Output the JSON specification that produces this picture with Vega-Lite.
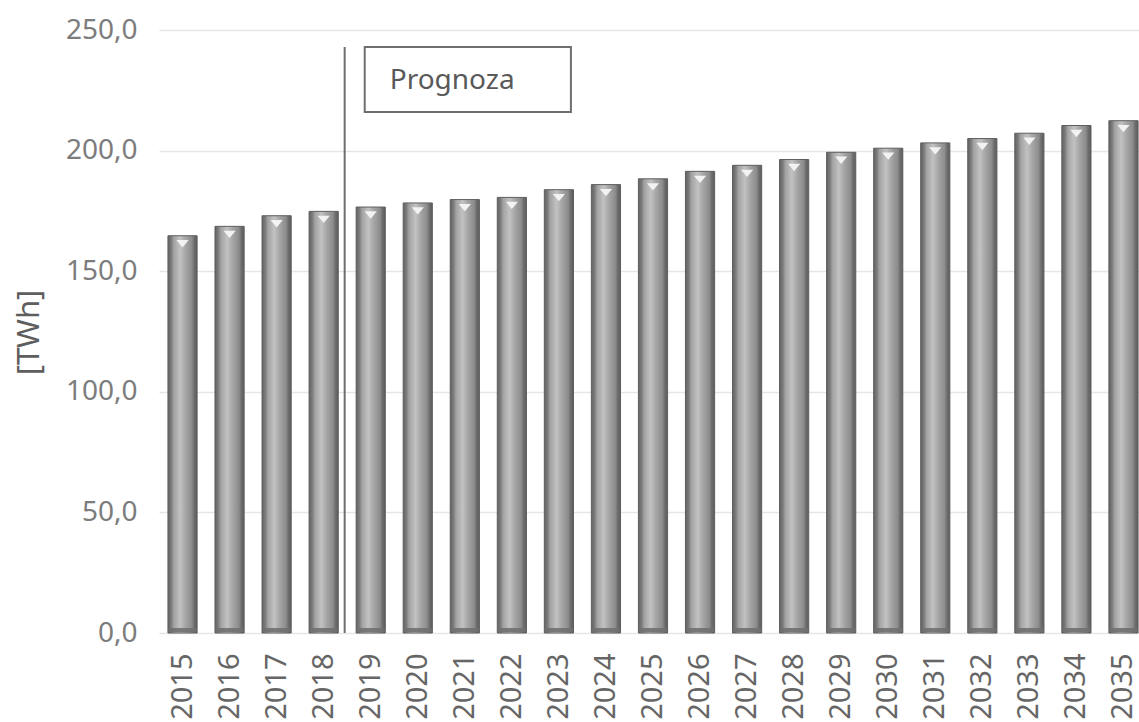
{
  "$schema": "https://vega.github.io/schema/vega-lite/v6.json",
  "autosize": "none",
  "width": 988,
  "height": 603,
  "padding": {"left": 159, "top": 30, "right": 0, "bottom": 89},
  "background": "white",
  "config": {
    "view": {"stroke": null},
    "font": "Noto Sans"
  },
  "datasets": {
    "energy": [
      {"year": "2015", "twh": 164.7},
      {"year": "2016", "twh": 168.6},
      {"year": "2017", "twh": 173.0},
      {"year": "2018", "twh": 174.8},
      {"year": "2019", "twh": 176.6},
      {"year": "2020", "twh": 178.3},
      {"year": "2021", "twh": 179.7},
      {"year": "2022", "twh": 180.6},
      {"year": "2023", "twh": 183.8},
      {"year": "2024", "twh": 185.9},
      {"year": "2025", "twh": 188.3},
      {"year": "2026", "twh": 191.4},
      {"year": "2027", "twh": 193.9},
      {"year": "2028", "twh": 196.3},
      {"year": "2029", "twh": 199.3},
      {"year": "2030", "twh": 201.0},
      {"year": "2031", "twh": 203.2},
      {"year": "2032", "twh": 205.0},
      {"year": "2033", "twh": 207.2},
      {"year": "2034", "twh": 210.4},
      {"year": "2035", "twh": 212.4}
    ],
    "divider": [
      {"year": "2018", "low": 0, "high": 243}
    ],
    "forecast": [
      {"from": "2019", "to": "2023", "low": 216, "high": 243, "mid": 229, "label": "Prognoza"}
    ]
  },
  "layer": [
    {
      "data": {"name": "energy"},
      "mark": {
        "type": "bar",
        "stroke": "#5e5e5e",
        "strokeWidth": 1,
        "color": {
          "gradient": "linear",
          "x1": 0, "x2": 1, "y1": 0, "y2": 0,
          "stops": [
            {"offset": 0, "color": "#626262"},
            {"offset": 0.12, "color": "#7e7e7e"},
            {"offset": 0.2, "color": "#a2a2a2"},
            {"offset": 0.42, "color": "#c2c2c2"},
            {"offset": 0.6, "color": "#a6a6a6"},
            {"offset": 0.82, "color": "#8c8c8c"},
            {"offset": 0.9, "color": "#6e6e6e"},
            {"offset": 1, "color": "#5c5c5c"}
          ]
        }
      },
      "encoding": {
        "x": {
          "field": "year",
          "type": "ordinal",
          "scale": {"paddingInner": 0.38, "paddingOuter": 0.19},
          "axis": {
            "title": null,
            "labelAngle": -90,
            "labelAlign": "right",
            "labelBaseline": "middle",
            "labelFontSize": 29,
            "labelColor": "#666666",
            "labelPadding": 20,
            "ticks": false,
            "domain": false
          }
        },
        "y": {
          "field": "twh",
          "type": "quantitative",
          "scale": {"domain": [0, 250], "nice": false},
          "axis": {
            "values": [0, 50, 100, 150, 200, 250],
            "labelExpr": "replace(format(datum.value, '.1f'), '.', ',')",
            "labelFontSize": 28,
            "labelColor": "#7c7c7c",
            "labelPadding": 22,
            "ticks": false,
            "domain": false,
            "gridColor": "#e6e6e6",
            "gridWidth": 1.5,
            "title": "[TWh]",
            "titleFontSize": 31,
            "titleFontWeight": "normal",
            "titleColor": "#5e5e5e",
            "titleAngle": -90,
            "titleAlign": "center",
            "titleBaseline": "middle",
            "titleX": -130,
            "titleY": 302
          }
        }
      }
    },
    {
      "data": {"name": "energy"},
      "mark": {
        "type": "tick",
        "orient": "horizontal",
        "color": "#707070",
        "opacity": 0.9,
        "thickness": 4,
        "size": 28,
        "yOffset": -3
      },
      "encoding": {
        "x": {"field": "year", "type": "ordinal"},
        "y": {"datum": 0, "type": "quantitative", "scale": {"domain": [0, 250], "nice": false}}
      }
    },
    {
      "data": {"name": "energy"},
      "mark": {
        "type": "point",
        "shape": "M-1,-0.6L1,-0.6L0,0.6Z",
        "size": 150,
        "filled": true,
        "color": "#f6f6f6",
        "opacity": 0.95,
        "yOffset": 8
      },
      "encoding": {
        "x": {"field": "year", "type": "ordinal"},
        "y": {"field": "twh", "type": "quantitative", "scale": {"domain": [0, 250], "nice": false}}
      }
    },
    {
      "data": {"name": "divider"},
      "mark": {"type": "rule", "color": "#6e6e6e", "strokeWidth": 2, "xOffset": 21},
      "encoding": {
        "x": {"field": "year", "type": "ordinal"},
        "y": {"field": "low", "type": "quantitative", "scale": {"domain": [0, 250], "nice": false}},
        "y2": {"field": "high"}
      }
    },
    {
      "data": {"name": "forecast"},
      "mark": {
        "type": "rect",
        "fill": "white",
        "stroke": "#6e6e6e",
        "strokeWidth": 2,
        "xOffset": -6,
        "x2Offset": 12
      },
      "encoding": {
        "x": {"field": "from", "type": "ordinal", "bandPosition": 0.5},
        "x2": {"field": "to", "bandPosition": 0.5},
        "y": {"field": "low", "type": "quantitative", "scale": {"domain": [0, 250], "nice": false}},
        "y2": {"field": "high"}
      }
    },
    {
      "data": {"name": "forecast"},
      "mark": {
        "type": "text",
        "align": "left",
        "baseline": "middle",
        "fontSize": 28,
        "color": "#595959",
        "xOffset": 19
      },
      "encoding": {
        "x": {"field": "from", "type": "ordinal"},
        "y": {"field": "mid", "type": "quantitative", "scale": {"domain": [0, 250], "nice": false}},
        "text": {"field": "label"}
      }
    }
  ]
}
